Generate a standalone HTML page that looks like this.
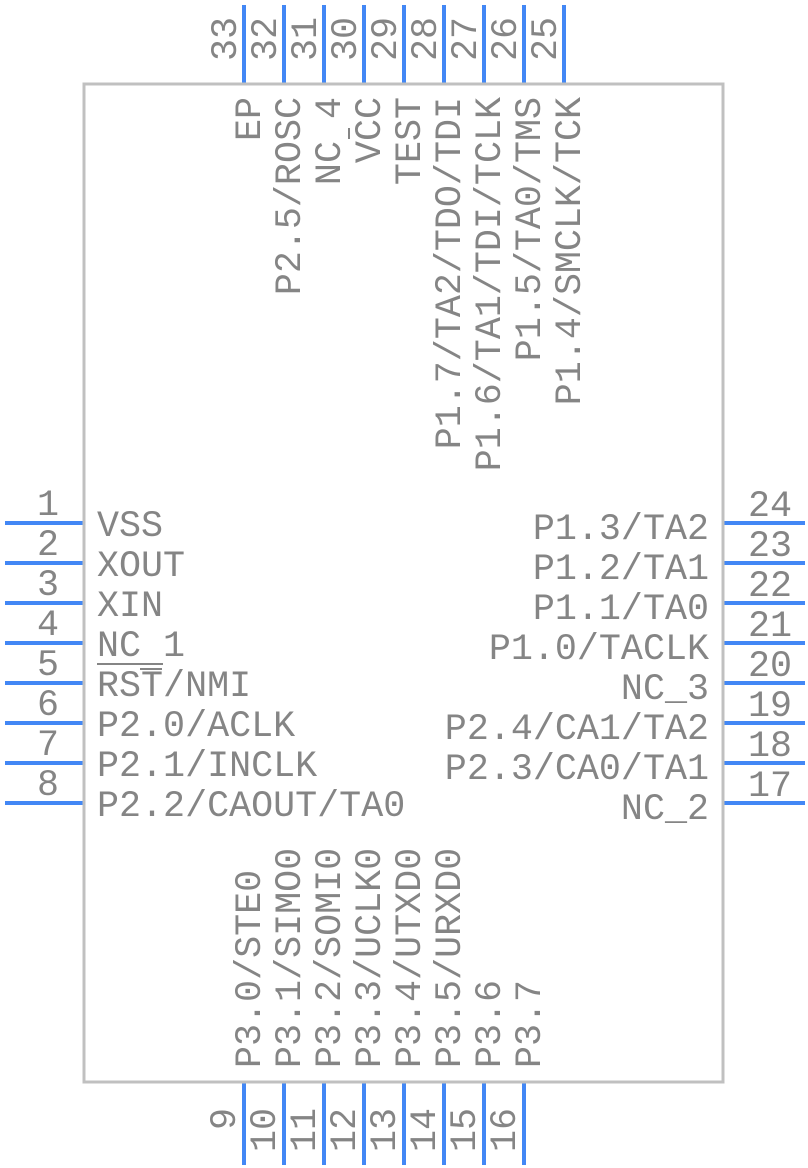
<!DOCTYPE html>
<html><head><meta charset="utf-8"><style>
html,body{margin:0;padding:0;background:#fff;}
svg{display:block;}
text{font-family:"Liberation Mono",monospace;font-size:36.7px;fill:#858585;}
</style></head><body>
<svg width="808" height="1168" viewBox="0 0 808 1168" xmlns="http://www.w3.org/2000/svg">
<g stroke="#4287f5" stroke-width="4">
<line x1="5" y1="523" x2="84" y2="523"/><line x1="5" y1="563" x2="84" y2="563"/>
<line x1="5" y1="603" x2="84" y2="603"/><line x1="5" y1="643" x2="84" y2="643"/>
<line x1="5" y1="683" x2="84" y2="683"/><line x1="5" y1="723" x2="84" y2="723"/>
<line x1="5" y1="763" x2="84" y2="763"/><line x1="5" y1="803" x2="84" y2="803"/>
<line x1="723" y1="523" x2="805" y2="523"/><line x1="723" y1="563" x2="805" y2="563"/>
<line x1="723" y1="603" x2="805" y2="603"/><line x1="723" y1="643" x2="805" y2="643"/>
<line x1="723" y1="683" x2="805" y2="683"/><line x1="723" y1="723" x2="805" y2="723"/>
<line x1="723" y1="763" x2="805" y2="763"/><line x1="723" y1="803" x2="805" y2="803"/>
<line x1="244" y1="5" x2="244" y2="84"/><line x1="284" y1="5" x2="284" y2="84"/>
<line x1="324" y1="5" x2="324" y2="84"/><line x1="364" y1="5" x2="364" y2="84"/>
<line x1="404" y1="5" x2="404" y2="84"/><line x1="444" y1="5" x2="444" y2="84"/>
<line x1="484" y1="5" x2="484" y2="84"/><line x1="524" y1="5" x2="524" y2="84"/>
<line x1="564" y1="5" x2="564" y2="84"/>
<line x1="244" y1="1082" x2="244" y2="1165"/><line x1="284" y1="1082" x2="284" y2="1165"/>
<line x1="324" y1="1082" x2="324" y2="1165"/><line x1="364" y1="1082" x2="364" y2="1165"/>
<line x1="404" y1="1082" x2="404" y2="1165"/><line x1="444" y1="1082" x2="444" y2="1165"/>
<line x1="484" y1="1082" x2="484" y2="1165"/><line x1="524" y1="1082" x2="524" y2="1165"/>
</g>
<rect x="84" y="84" width="639" height="998" fill="none" stroke="#c0c0c0" stroke-width="3"/>
<g text-anchor="start">
<text x="97" y="536">VSS</text><text x="97" y="576">XOUT</text><text x="97" y="616">XIN</text>
<text x="97" y="656">NC 1</text><text x="97" y="696">RST/NMI</text><text x="97" y="736">P2.0/ACLK</text>
<text x="97" y="776">P2.1/INCLK</text><text x="97" y="816">P2.2/CAOUT/TA0</text>
</g>
<g stroke="#858585" stroke-width="2"><line x1="97" y1="664" x2="163" y2="664"/><line x1="140" y1="669" x2="162" y2="669"/>
<line x1="349" y1="128" x2="349" y2="139"/></g>
<g text-anchor="middle">
<text x="48" y="515">1</text><text x="48" y="555">2</text><text x="48" y="595">3</text><text x="48" y="635">4</text>
<text x="48" y="675">5</text><text x="48" y="715">6</text><text x="48" y="755">7</text><text x="48" y="795">8</text>
<text x="770" y="516">24</text><text x="770" y="556">23</text><text x="770" y="596">22</text><text x="770" y="636">21</text>
<text x="770" y="676">20</text><text x="770" y="716">19</text><text x="770" y="756">18</text><text x="770" y="796">17</text>
</g>
<g text-anchor="end">
<text x="709" y="539">P1.3/TA2</text><text x="709" y="579">P1.2/TA1</text><text x="709" y="619">P1.1/TA0</text>
<text x="709" y="659">P1.0/TACLK</text><text x="709" y="699">NC_3</text><text x="709" y="739">P2.4/CA1/TA2</text>
<text x="709" y="779">P2.3/CA0/TA1</text><text x="709" y="819">NC_2</text>
</g>
<g text-anchor="end">
<text transform="translate(260,97) rotate(-90)">EP</text>
<text transform="translate(300,97) rotate(-90)">P2.5/ROSC</text>
<text transform="translate(340,97) rotate(-90)">NC 4</text>
<text transform="translate(380,97) rotate(-90)">VCC</text>
<text transform="translate(420,97) rotate(-90)">TEST</text>
<text transform="translate(460,97) rotate(-90)">P1.7/TA2/TDO/TDI</text>
<text transform="translate(500,97) rotate(-90)">P1.6/TA1/TDI/TCLK</text>
<text transform="translate(540,97) rotate(-90)">P1.5/TA0/TMS</text>
<text transform="translate(580,97) rotate(-90)">P1.4/SMCLK/TCK</text>
<text transform="translate(236,17) rotate(-90)">33</text>
<text transform="translate(276,17) rotate(-90)">32</text>
<text transform="translate(316,17) rotate(-90)">31</text>
<text transform="translate(356,17) rotate(-90)">30</text>
<text transform="translate(396,17) rotate(-90)">29</text>
<text transform="translate(436,17) rotate(-90)">28</text>
<text transform="translate(476,17) rotate(-90)">27</text>
<text transform="translate(516,17) rotate(-90)">26</text>
<text transform="translate(556,17) rotate(-90)">25</text>
<text transform="translate(235,1108) rotate(-90)">9</text>
<text transform="translate(275,1108) rotate(-90)">10</text>
<text transform="translate(315,1108) rotate(-90)">11</text>
<text transform="translate(355,1108) rotate(-90)">12</text>
<text transform="translate(395,1108) rotate(-90)">13</text>
<text transform="translate(435,1108) rotate(-90)">14</text>
<text transform="translate(475,1108) rotate(-90)">15</text>
<text transform="translate(515,1108) rotate(-90)">16</text>
</g>
<g text-anchor="start">
<text transform="translate(260,1068) rotate(-90)">P3.0/STE0</text>
<text transform="translate(300,1068) rotate(-90)">P3.1/SIMO0</text>
<text transform="translate(340,1068) rotate(-90)">P3.2/SOMI0</text>
<text transform="translate(380,1068) rotate(-90)">P3.3/UCLK0</text>
<text transform="translate(420,1068) rotate(-90)">P3.4/UTXD0</text>
<text transform="translate(460,1068) rotate(-90)">P3.5/URXD0</text>
<text transform="translate(500,1068) rotate(-90)">P3.6</text>
<text transform="translate(540,1068) rotate(-90)">P3.7</text>
</g>
</svg>
</body></html>
